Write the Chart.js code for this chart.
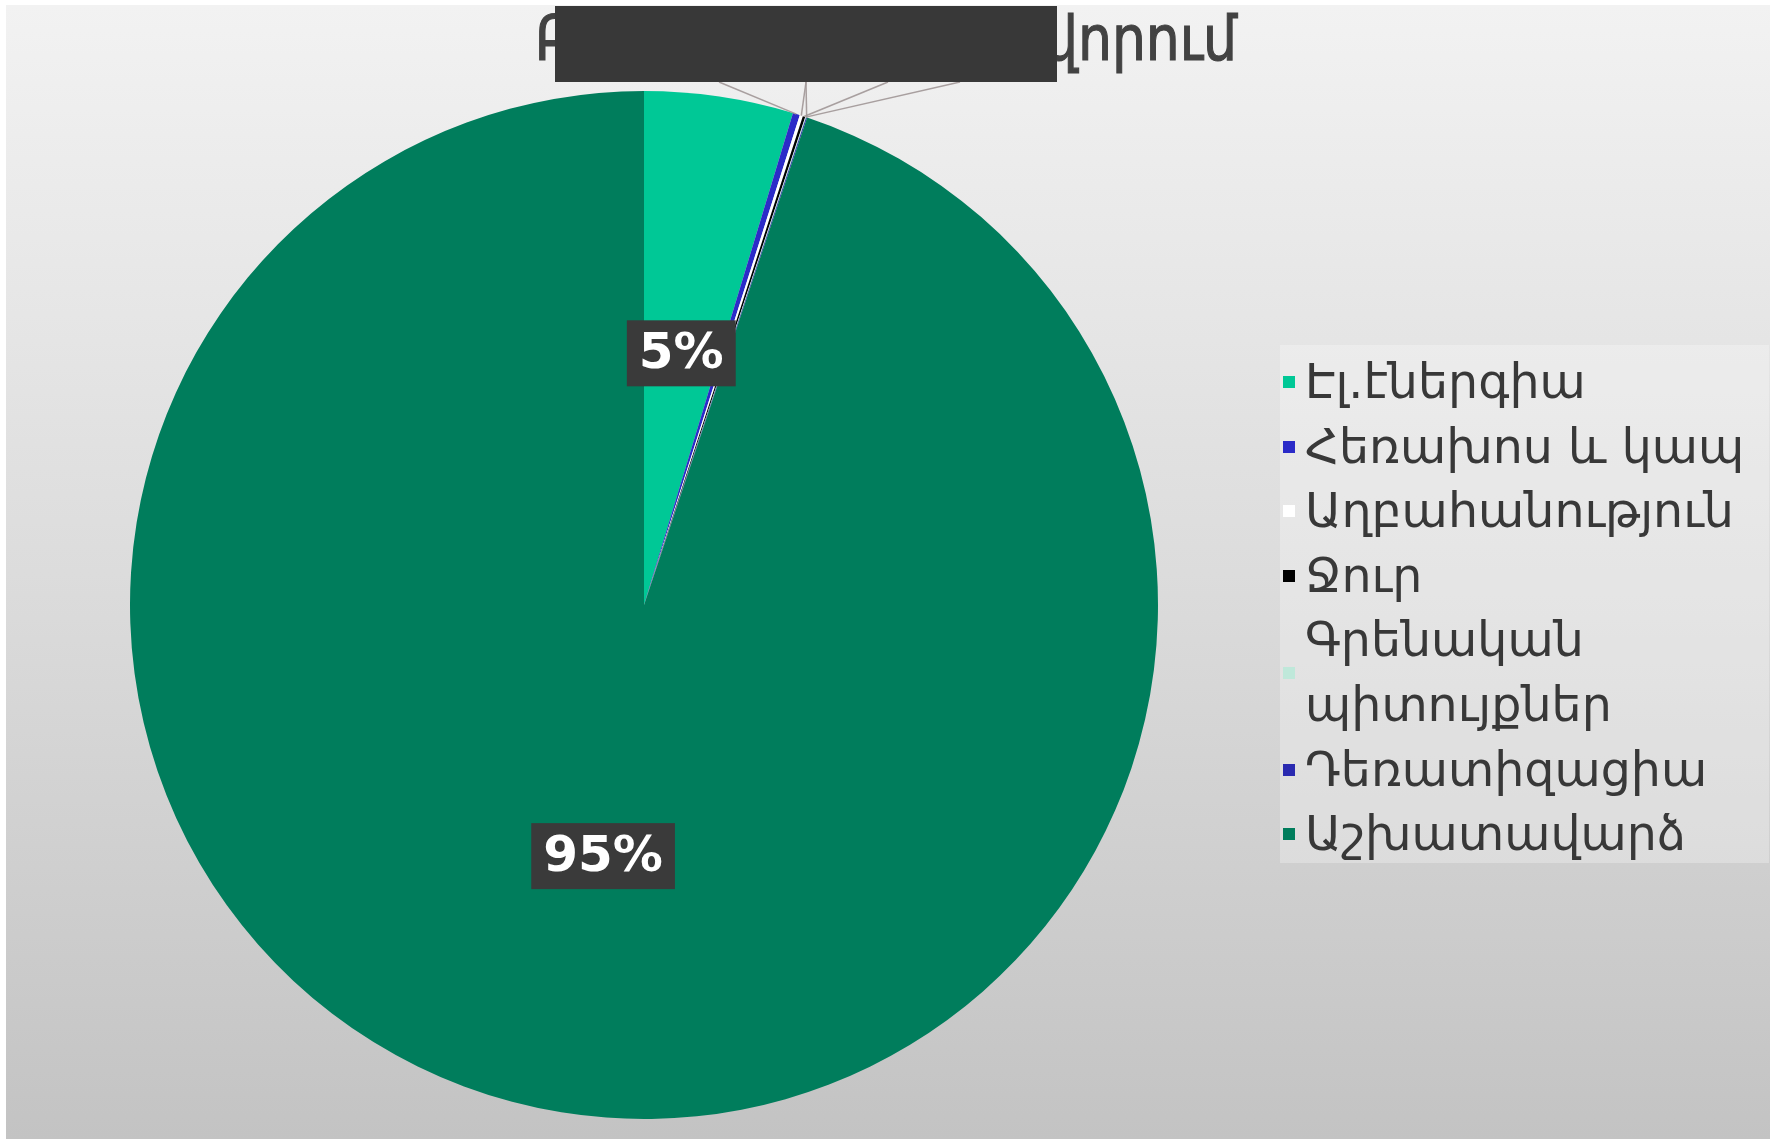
<!DOCTYPE html>
<html>
<head>
<meta charset="utf-8">
<script src="https://cdn.jsdelivr.net/npm/chart.js@4.4.0/dist/chart.umd.min.js"></script>
<style>
  body { margin: 0; background: #fff; }
  #wrap { position: absolute; left: 6px; top: 5px; width: 1764px; height: 1134px;
          background: linear-gradient(180deg, #f2f2f2 0%, #dcdcdc 50%, #c3c3c3 100%); }
  #pie { position: absolute; left: 0; top: 0; }
  #legend { position: absolute; left: 1280px; top: 345px; width: 489px; height: 518px;
            background: rgba(255,255,255,0.28); padding-top: 5px; box-sizing: border-box;
            font-family: "DejaVu Sans", sans-serif; font-size: 47.5px; color: #383838; }
  .item { position: relative; padding-left: 25px; line-height: 64.6px; white-space: nowrap; }
  .item .box { position: absolute; left: 3px; top: 50%; width: 12px; height: 12px; margin-top: -6px; }
</style>
</head>
<body>
<div id="wrap"></div>
<canvas id="pie" width="1776" height="1139"></canvas>
<div id="legend"></div>
<script>
// ծախսերի բաշխում, %
const labels = ['Էլ.էներգիա', 'Հեռախոս և կապ', 'Աղբահանություն', 'Ջուր', 'Գրենական պիտույքներ', 'Դեռատիզացիա', 'Աշխատավարձ'];
const legendLines = [['Էլ.էներգիա'], ['Հեռախոս և կապ'], ['Աղբահանություն'], ['Ջուր'], ['Գրենական', 'պիտույքներ'], ['Դեռատիզացիա'], ['Աշխատավարձ']];
const values = [4.68, 0.22, 0.10, 0.08, 0.03, 0.03, 94.86];
const colors = ['#00c896', '#2b2bc8', '#ffffff', '#000000', '#bfe8da', '#2a2ab0', '#007d5c'];
const title = 'Բյուջեի ֆինանսավորում';
const titleTail = 'վորում';

// html legend
var legend = document.getElementById('legend');
legendLines.forEach(function (lines, i) {
  var d = document.createElement('div');
  d.className = 'item';
  d.innerHTML = '<span class="box" style="background:' + colors[i] + '"></span>' + lines.join('<br>');
  legend.appendChild(d);
});

var total = values.reduce(function (a, b) { return a + b; }, 0);

// leader line anchors on the bottom of the stacked label box
var anchors = [719, 806, 888, 960, 806];

var labelsPlugin = {
  id: 'pieLabels',
  afterDraw: function (chart) {
    var ctx = chart.ctx;
    var arcs = chart.getDatasetMeta(0).data;

    // title, squeezed like the original condensed face
    ctx.save();
    ctx.font = '62px "DejaVu Sans"';
    ctx.fillStyle = '#424242';
    ctx.strokeStyle = '#424242';
    ctx.lineWidth = 1.2;
    ctx.textAlign = 'left';
    ctx.textBaseline = 'alphabetic';
    var sx = 193 / ctx.measureText(titleTail).width;
    var w = ctx.measureText(title).width * sx;
    ctx.translate(1237 - w, 60);
    ctx.scale(sx, 1);
    ctx.fillText(title, 0, 0);
    ctx.strokeText(title, 0, 0);
    ctx.restore();

    // leader lines for tiny slices
    ctx.save();
    ctx.strokeStyle = 'rgba(160,150,150,0.9)';
    ctx.lineWidth = 1.5;
    var k = 0;
    arcs.forEach(function (arc, i) {
      var pct = values[i] / total * 100;
      if (pct >= 1) return;
      var p = arc.getProps(['x', 'y', 'startAngle', 'endAngle', 'outerRadius'], true);
      var mid = (p.startAngle + p.endAngle) / 2;
      var ex = p.x + Math.cos(mid) * p.outerRadius;
      var ey = p.y + Math.sin(mid) * p.outerRadius;
      ctx.beginPath();
      ctx.moveTo(anchors[k], 82);
      ctx.lineTo(ex, ey);
      ctx.stroke();
      k++;
    });
    ctx.restore();

    // stacked labels box (covers the 0% labels)
    ctx.fillStyle = '#383838';
    ctx.fillRect(555, 6, 502, 76);

    // percent labels
    arcs.forEach(function (arc, i) {
      var pct = values[i] / total * 100;
      if (pct < 1) return;
      var p = arc.getProps(['x', 'y', 'startAngle', 'endAngle', 'outerRadius'], true);
      var mid = (p.startAngle + p.endAngle) / 2;
      var cx = p.x + Math.cos(mid) * p.outerRadius * 0.495;
      var cy = p.y + Math.sin(mid) * p.outerRadius * 0.495;
      var txt = Math.round(pct) + '%';
      ctx.save();
      ctx.font = 'bold 50px "DejaVu Sans"';
      var tw = ctx.measureText(txt).width;
      ctx.fillStyle = '#3a3a3a';
      ctx.fillRect(cx - tw / 2 - 12, cy - 33, tw + 24, 66);
      ctx.fillStyle = '#ffffff';
      ctx.textAlign = 'center';
      ctx.textBaseline = 'middle';
      ctx.fillText(txt, cx, cy + 2);
      ctx.restore();
    });
  }
};

var pie_chart = new Chart(document.getElementById('pie'), {
  type: 'pie',
  data: {
    labels: labels,
    datasets: [{
      data: values,
      backgroundColor: colors,
      borderWidth: 0
    }]
  },
  options: {
    responsive: false,
    animation: false,
    layout: { padding: { left: 130, right: 618, top: 91, bottom: 20 } },
    plugins: {
      legend: { display: false },
      tooltip: { enabled: false }
    }
  },
  plugins: [labelsPlugin]
});
</script>
</body>
</html>
